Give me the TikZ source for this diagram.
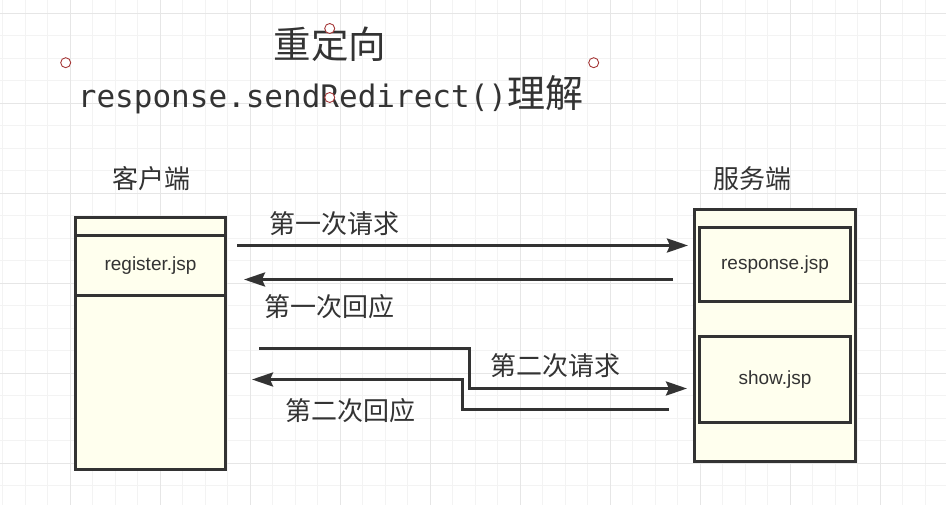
\documentclass[tikz,border=0pt]{standalone}
\usepackage{fontspec}
\setmainfont{Liberation Sans}
\newfontfamily\cjkf{Noto Sans CJK SC}
\newfontfamily\monof{DejaVu Sans Mono}
\usetikzlibrary{arrows.meta}
\definecolor{gridminor}{RGB}{243,243,243}
\definecolor{gridmajor}{RGB}{230,230,230}
\definecolor{boxfill}{RGB}{255,255,238}
\definecolor{ink}{RGB}{51,51,51}
\definecolor{handle}{RGB}{165,55,55}
\begin{document}
\begin{tikzpicture}[x=1pt,y=-1pt,
  box/.style={draw=ink, line width=3pt, fill=boxfill, inner sep=0pt, outer sep=0pt, anchor=north west,
              text=ink, font=\fontsize{19}{19}\selectfont},
  conn/.style={draw=ink, line width=3pt, -{Stealth[length=21pt,width=14pt,inset=3pt]}},
  lbl/.style={inner sep=0pt, text=ink, font=\cjkf\fontsize{26}{26}\selectfont},
  hdl/.style={circle, draw=handle, fill=white, line width=0.9pt, minimum size=10pt, inner sep=0pt}]

\useasboundingbox (0,0) rectangle (946,505);
\fill[white] (0,0) rectangle (946,505);
% grid
\foreach \i in {0,...,41} \draw[gridminor, line width=1pt] ({2.5+22.5*\i},0) -- ++(0,505);
\foreach \i in {0,...,21} \draw[gridminor, line width=1pt] (0,{13.3+22.5*\i}) -- ++(946,0);
\foreach \i in {0,...,9} \draw[gridmajor, line width=1pt] ({70+90*\i},0) -- ++(0,505);
\foreach \i in {0,...,5} \draw[gridmajor, line width=1pt] (0,{13.3+90*\i}) -- ++(946,0);

% title
\node[anchor=base, inner sep=0pt, text=ink, font=\cjkf\fontsize{37.5}{37.5}\selectfont] (title) at (330,59) {重定向};
\node[anchor=base, inner sep=0pt, text=ink] (subtitle) at (330.5,108)
  {\monof\fontsize{31}{31}\selectfont response.sendRedirect()\cjkf\fontsize{38}{38}\selectfont 理解};

% handles
\node[hdl] (h1) at (65.7,62.7) {};
\node[hdl] (h2) at (593.7,62.7) {};
\node[hdl] (h3) at (329.7,28.5) {};
\node[hdl] (h4) at (329.7,97.5) {};

% side labels
\node[lbl] (clientlbl) at (151,178.5) {客户端};
\node[lbl] (serverlbl) at (752.5,178.5) {服务端};

% client box
\node[box, minimum width=150pt, minimum height=252pt] (client) at (75.5,217.5) {};
\node[box, minimum width=150pt, minimum height=60pt] (reg) at (75.5,235.5) {register.jsp};

% server box
\node[box, minimum width=161pt, minimum height=252pt] (server) at (694.5,209.5) {};
\node[box, minimum width=151pt, minimum height=74.5pt] (resp) at (699.5,227.5) {response.jsp};
\node[box, minimum width=151pt, minimum height=86pt] (show) at (699.5,336.5) {show.jsp};

% connectors
\coordinate (a1s) at (237,245.5);
\coordinate (a1e) at (688,245.5);
\coordinate (a2s) at (673,279.5);
\coordinate (a2e) at (244,279.5);
\coordinate (a3s) at (259,348.5);
\coordinate (a3m) at (469.5,348.5);
\coordinate (a3n) at (469.5,388.5);
\coordinate (a3e) at (687,388.5);
\coordinate (a4s) at (669,409.5);
\coordinate (a4m) at (462.5,409.5);
\coordinate (a4n) at (462.5,379.5);
\coordinate (a4e) at (252,379.5);

\draw[conn] (a1s) -- (a1e);
\draw[conn] (a2s) -- (a2e);
\draw[conn] (a3s) -- (a3m) -- (a3n) -- (a3e);
\draw[conn] (a4s) -- (a4m) -- (a4n) -- (a4e);

% connector labels
\node[lbl] (l1) at (334,224) {第一次请求};
\node[lbl] (l2) at (329.5,306.7) {第一次回应};
\node[lbl] (l3) at (555,365.3) {第二次请求};
\node[lbl] (l4) at (350.5,411) {第二次回应};
\end{tikzpicture}
\end{document}
